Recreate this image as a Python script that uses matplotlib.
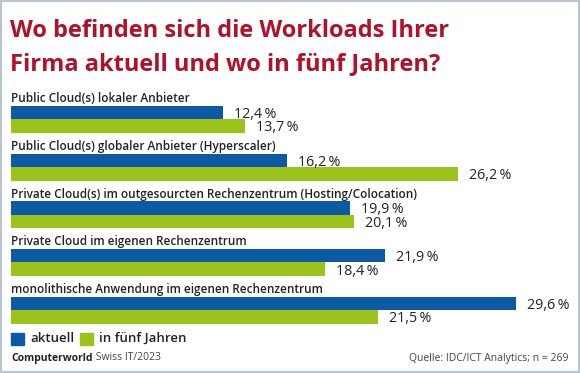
import matplotlib
matplotlib.use("Agg")
import matplotlib.pyplot as plt
import numpy as np

categories = [
    "Public Cloud(s) lokaler Anbieter",
    "Public Cloud(s) globaler Anbieter (Hyperscaler)",
    "Private Cloud(s) im outgesourcten Rechenzentrum (Hosting/Colocation)",
    "Private Cloud im eigenen Rechenzentrum",
    "monolithische Anwendung im eigenen Rechenzentrum",
]
aktuell = [12.4, 16.2, 19.9, 21.9, 29.6]
in_fuenf_jahren = [13.7, 26.2, 20.1, 18.4, 21.5]
series_names = ["aktuell", "in fünf Jahren"]

title = "Wo befinden sich die Workloads Ihrer\nFirma aktuell und wo in fünf Jahren?"
source_left = ("Computerworld", " Swiss IT/2023")
source_right = "Quelle: IDC/ICT Analytics; n = 269"

BLUE = "#0c5aa6"
GREEN = "#9cc31b"
RED = "#b0112b"
TEXT = "#222222"
FONT = "Open Sans"

W, H = 580, 373
fig = plt.figure(figsize=(W / 100, H / 100), dpi=100)
fig.patch.set_facecolor("white")

# pixel helpers
px_per_unit = 17.06
x0 = 11
group_step = 47.7
first_mid = 119.3
bar_h = 13.5 / group_step

ax = fig.add_axes([0, 0, 1, 1])
ax.set_xlim(-x0 / px_per_unit, (W - x0) / px_per_unit)
ax.set_ylim((H - first_mid) / group_step, -first_mid / group_step)
ax.axis("off")

idx = np.arange(len(categories))
ax.barh(idx - bar_h / 2, aktuell, height=bar_h, color=BLUE)
ax.barh(idx + bar_h / 2, in_fuenf_jahren, height=bar_h, color=GREEN)

gap = 11 / px_per_unit
for i, (a, b) in enumerate(zip(aktuell, in_fuenf_jahren)):
    ax.text(a + gap, i - bar_h / 2 + 0.04, f"{a:.1f}".replace(".", ",") + "\u2009%",
            va="center", ha="left", fontsize=10.3, color=TEXT, family=FONT)
    ax.text(b + gap, i + bar_h / 2 + 0.04, f"{b:.1f}".replace(".", ",") + "\u2009%",
            va="center", ha="left", fontsize=10.3, color=TEXT, family=FONT)
    ax.text(0, i - bar_h - 0.15, categories[i], va="center", ha="left",
            fontsize=8.5, color=TEXT, family=FONT, weight="semibold")

# title
fig.text(10 / W, 1 - 37 / H, title.split("\n")[0], fontsize=17, color=RED,
         weight="bold", family=FONT, va="baseline")
fig.text(10 / W, 1 - 70 / H, title.split("\n")[1], fontsize=17, color=RED,
         weight="bold", family=FONT, va="baseline")

# legend
ax.add_patch(plt.Rectangle((0, 4.47), 13 / px_per_unit, 12 / group_step,
                           color=BLUE, transform=ax.transData))
ax.text(19 / px_per_unit, 4.47 + 6 / group_step, series_names[0], va="center",
        fontsize=9.5, color=TEXT, family=FONT, weight="semibold")
ax.add_patch(plt.Rectangle((69 / px_per_unit, 4.47), 13 / px_per_unit, 12 / group_step,
                           color=GREEN, transform=ax.transData))
ax.text(88 / px_per_unit, 4.47 + 6 / group_step, series_names[1], va="center",
        fontsize=9.5, color=TEXT, family=FONT, weight="semibold")

# footer
t = fig.text(11 / W, 1 - 358 / H, source_left[0], fontsize=7.5, color=TEXT,
             weight="bold", family=FONT, va="center")
fig.canvas.draw()
bb = t.get_window_extent()
fig.text(bb.x1 / W, 1 - 358 / H, source_left[1], fontsize=7.5, color="#444444",
         family=FONT, va="center")
fig.text(568 / W, 1 - 358 / H, source_right, fontsize=7.5, color="#444444",
         family=FONT, va="center", ha="right")

# frame
fig.add_artist(plt.Rectangle((0, 0), 1, 1, transform=fig.transFigure, fill=False,
                             edgecolor="#b9c5ce", linewidth=3))

fig.savefig("out.png", dpi=100)
